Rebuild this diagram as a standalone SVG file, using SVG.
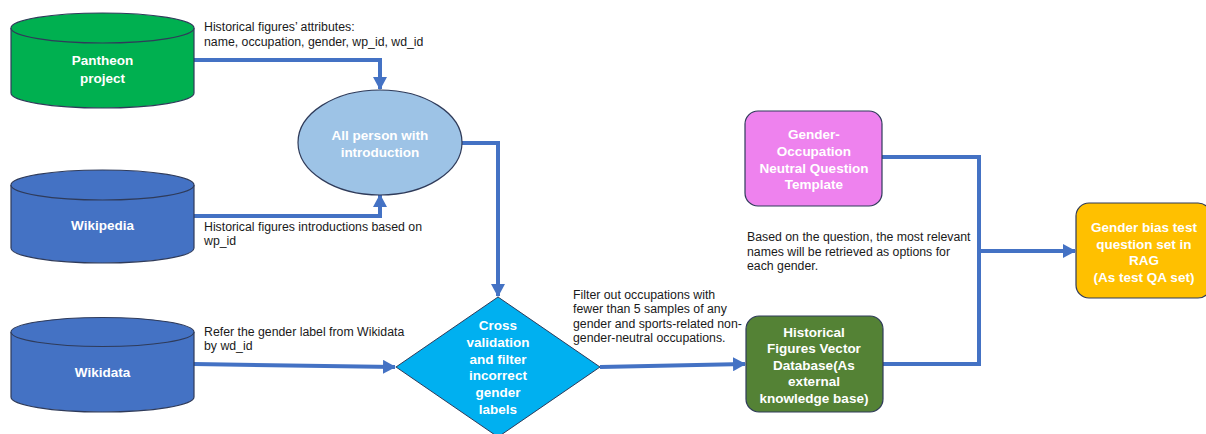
<svg xmlns="http://www.w3.org/2000/svg" width="1206" height="434" viewBox="0 0 1206 434">
<defs>
<marker id="ah" markerUnits="userSpaceOnUse" markerWidth="13" markerHeight="14" refX="12" refY="7" orient="auto">
<path d="M0,0 L13,7 L0,14 z" fill="#4472C4"/>
</marker>
<style>
.lbl{font-family:"Liberation Sans",Arial,sans-serif;font-size:12.3px;fill:#1a1a1a}
.nt{font-family:"Liberation Sans",Arial,sans-serif;font-size:13.5px;font-weight:bold;fill:#ffffff;text-anchor:middle}
.con{fill:none;stroke:#4472C4;stroke-width:4}
.cyl{stroke:#2F3B5A;stroke-width:1.2}
</style>
</defs>
<rect width="1206" height="434" fill="#ffffff"/>
<g id="connectors">
<path class="con" d="M194,60 H380 V89" marker-end="url(#ah)"/>
<path class="con" d="M194,216 H380 V195" marker-end="url(#ah)"/>
<path class="con" d="M462,143 H498 V296" marker-end="url(#ah)"/>
<path class="con" d="M194,364 L395,367" marker-end="url(#ah)"/>
<path class="con" d="M600,367 L745,364" marker-end="url(#ah)"/>
<path class="con" d="M882,157 H979 V364 H883"/>
<path class="con" d="M979,251 H1075" marker-end="url(#ah)"/>
</g>
<g id="pantheon">
<path class="cyl" fill="#00B050" d="M11,28 V93 A91.5,15 0 0 0 194,93 V28"/>
<ellipse class="cyl" fill="#00B050" cx="102.5" cy="28" rx="91.5" ry="15"/>
<text class="nt" x="102.5" y="65">Pantheon</text>
<text class="nt" x="102.5" y="83">project</text>
</g>
<g id="wikipedia">
<path class="cyl" fill="#4472C4" d="M11,185 V248 A91.5,15 0 0 0 194,248 V185"/>
<ellipse class="cyl" fill="#4472C4" cx="102.5" cy="185" rx="91.5" ry="15"/>
<text class="nt" x="102.5" y="230">Wikipedia</text>
</g>
<g id="wikidata">
<path class="cyl" fill="#4472C4" d="M11,332 V397 A91.5,15 0 0 0 194,397 V332"/>
<ellipse class="cyl" fill="#4472C4" cx="102.5" cy="332" rx="91.5" ry="14.5"/>
<text class="nt" x="102.5" y="377">Wikidata</text>
</g>
<g id="all-person">
<ellipse cx="380" cy="142.5" rx="82" ry="52.5" fill="#9DC3E6" stroke="#2F3B5A" stroke-width="1.2"/>
<text class="nt" x="380" y="140">All person with</text>
<text class="nt" x="380" y="157">introduction</text>
</g>
<g id="cross-validation">
<path d="M498,297 L600,367 L498,437 L396,367 z" fill="#00B0F0" stroke="#2F3B5A" stroke-width="1"/>
<text class="nt" x="498" y="330">Cross</text>
<text class="nt" x="498" y="347">validation</text>
<text class="nt" x="498" y="363.5">and filter</text>
<text class="nt" x="498" y="380">incorrect</text>
<text class="nt" x="498" y="397">gender</text>
<text class="nt" x="498" y="414">labels</text>
</g>
<g id="template">
<rect x="745" y="111" width="137" height="95" rx="13" fill="#EE82EE" stroke="#2F3B5A" stroke-width="1.2"/>
<text class="nt" x="814" y="139">Gender-</text>
<text class="nt" x="814" y="156">Occupation</text>
<text class="nt" x="814" y="173">Neutral Question</text>
<text class="nt" x="814" y="189">Template</text>
</g>
<g id="vector-db">
<rect x="746" y="316" width="137" height="96" rx="13" fill="#548235" stroke="#2F3B5A" stroke-width="1.2"/>
<text class="nt" x="814" y="337">Historical</text>
<text class="nt" x="814" y="353">Figures Vector</text>
<text class="nt" x="814" y="370">Database(As</text>
<text class="nt" x="814" y="386">external</text>
<text class="nt" x="814" y="403">knowledge base)</text>
</g>
<g id="test-set">
<rect x="1076" y="203" width="135" height="95" rx="13" fill="#FFC000" stroke="#2F3B5A" stroke-width="1.2"/>
<text class="nt" x="1144" y="232">Gender bias test</text>
<text class="nt" x="1144" y="249">question set in</text>
<text class="nt" x="1144" y="265">RAG</text>
<text class="nt" x="1144" y="282">(As test QA set)</text>
</g>
<g id="labels">
<text class="lbl" x="204" y="31">Historical figures’ attributes:</text>
<text class="lbl" x="204" y="46">name, occupation, gender, wp_id, wd_id</text>
<text class="lbl" x="204" y="231">Historical figures introductions based on</text>
<text class="lbl" x="204" y="245">wp_id</text>
<text class="lbl" x="204" y="336">Refer the gender label from Wikidata</text>
<text class="lbl" x="204" y="350">by wd_id</text>
<text class="lbl" x="573" y="299">Filter out occupations with</text>
<text class="lbl" x="573" y="313">fewer than 5 samples of any</text>
<text class="lbl" x="573" y="328">gender and sports-related non-</text>
<text class="lbl" x="573" y="342">gender-neutral occupations.</text>
<text class="lbl" x="747" y="241">Based on the question, the most relevant</text>
<text class="lbl" x="747" y="256">names will be retrieved as options for</text>
<text class="lbl" x="747" y="270">each gender.</text>
</g>
</svg>
